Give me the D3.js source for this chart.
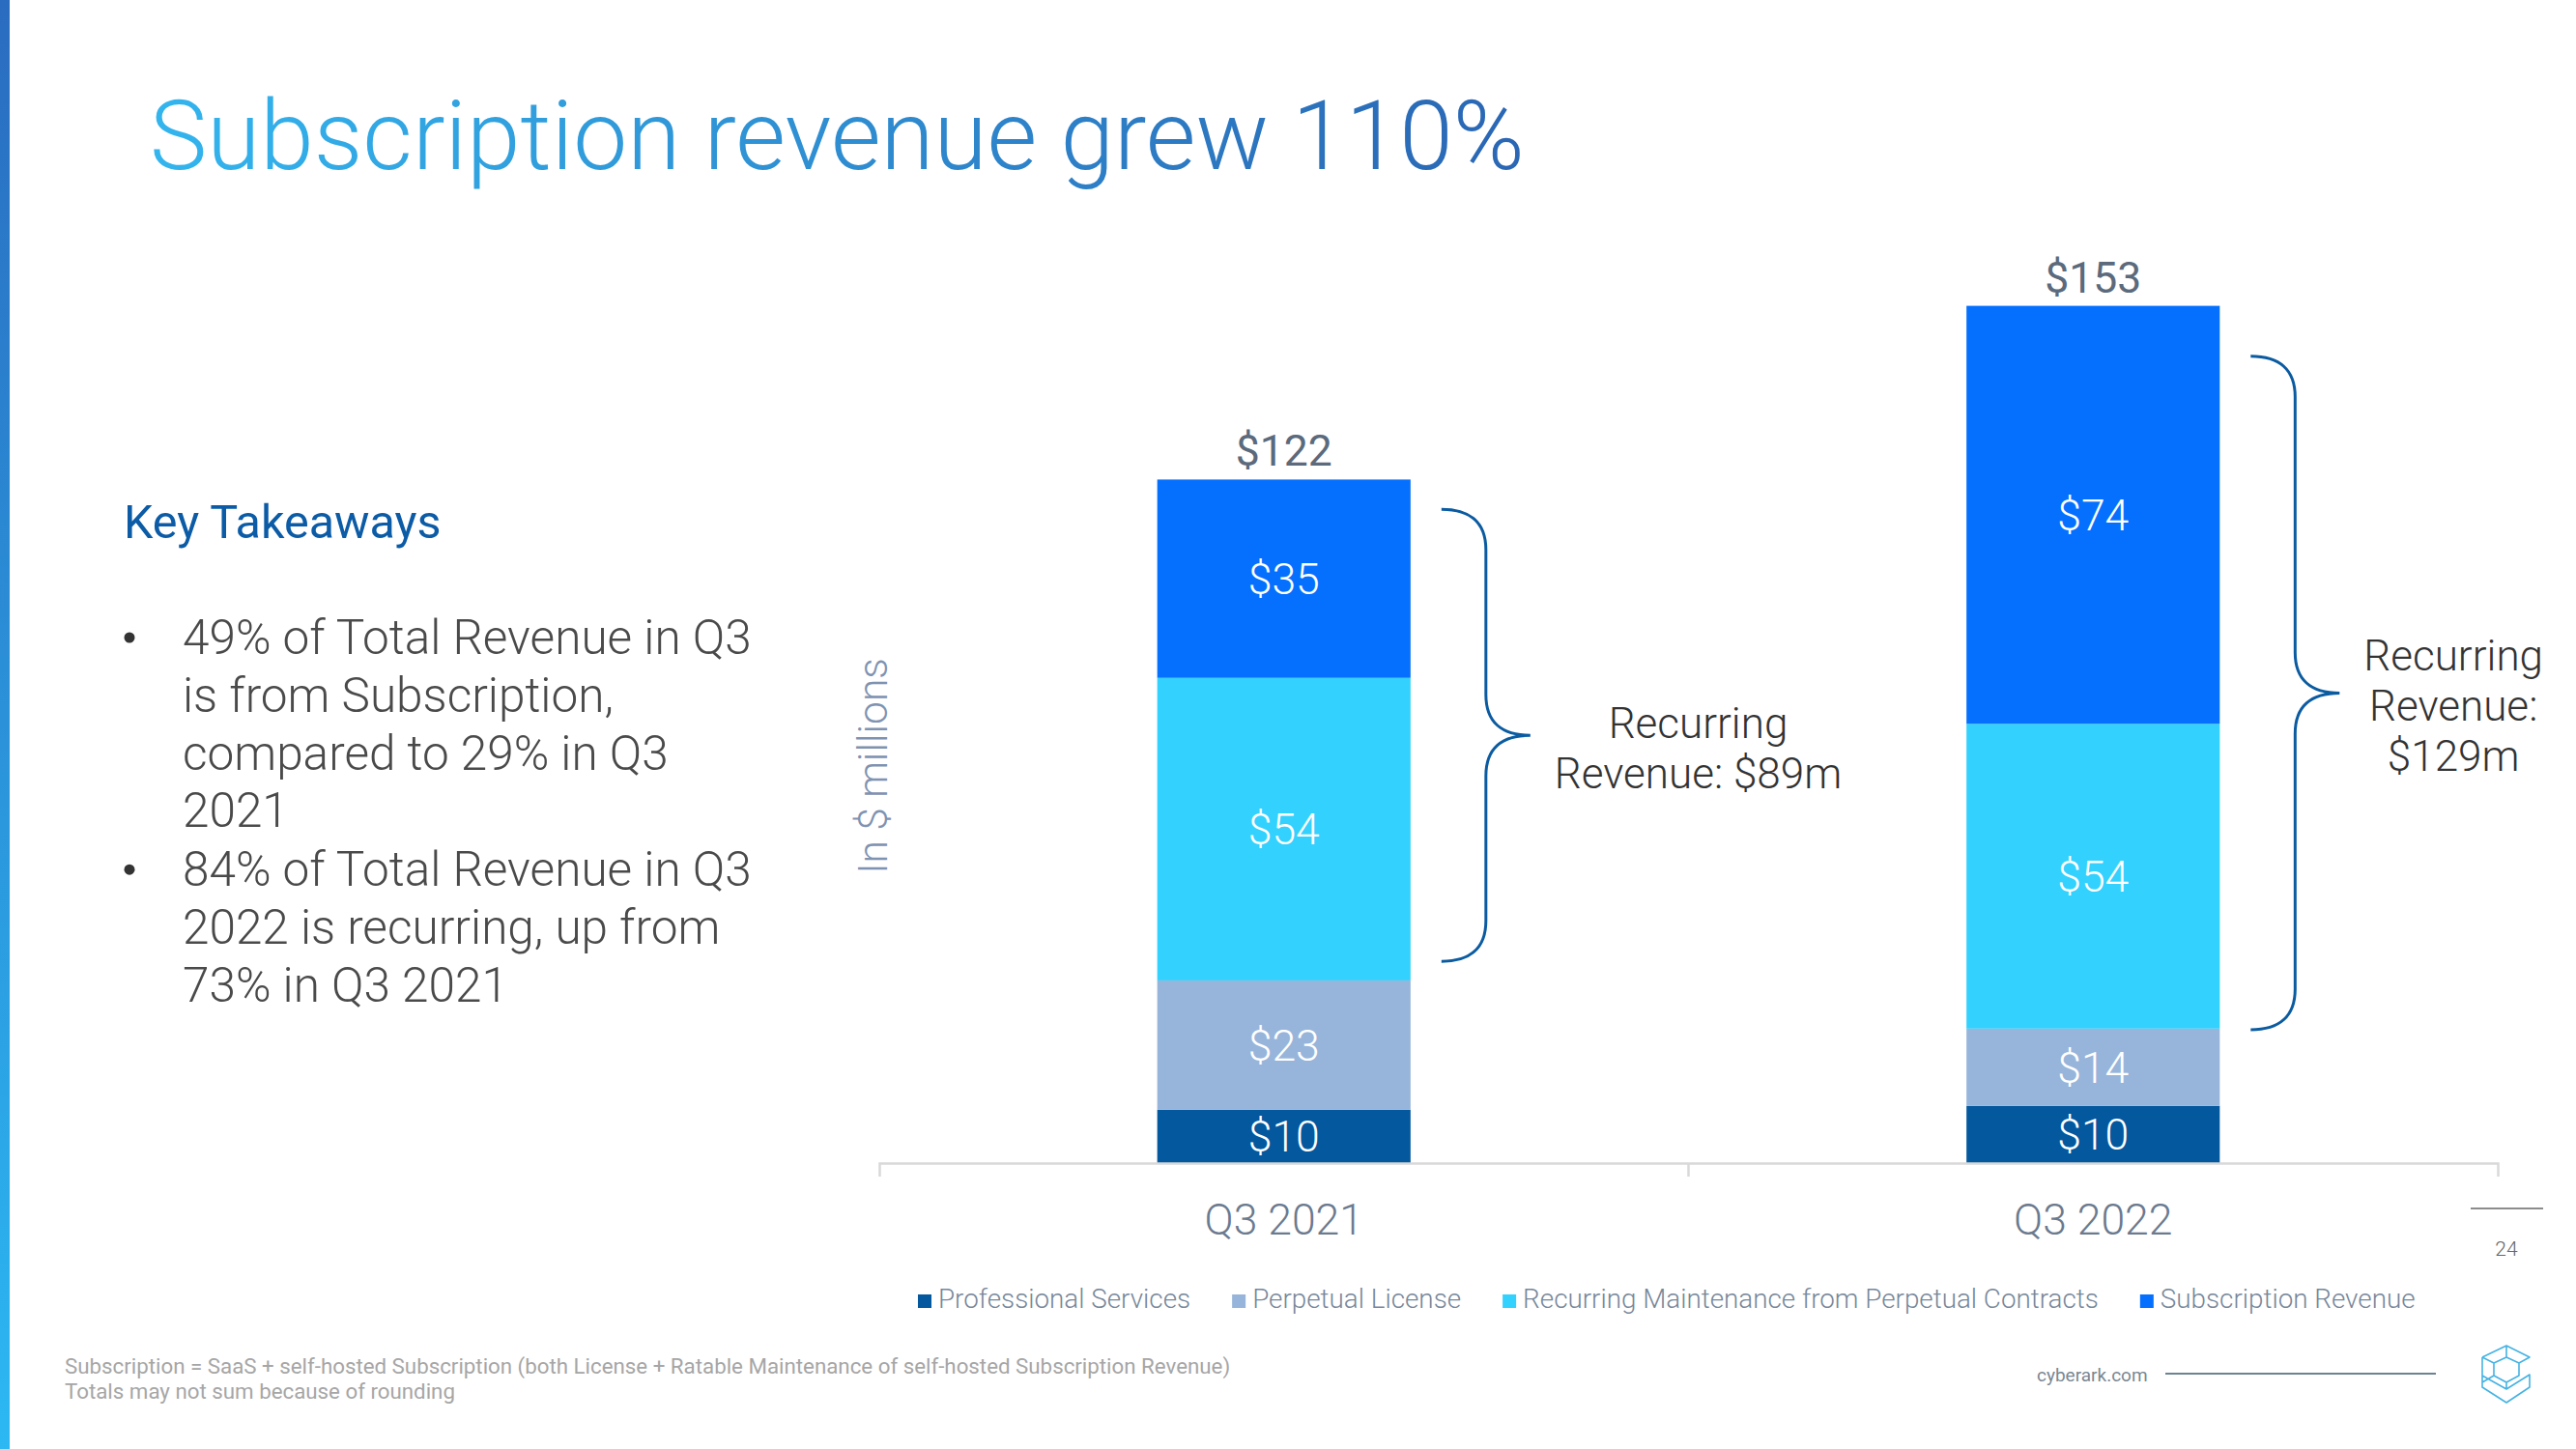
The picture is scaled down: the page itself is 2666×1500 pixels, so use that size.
<!DOCTYPE html>
<html><head><meta charset="utf-8">
<script src="https://cdn.jsdelivr.net/npm/d3@7"></script>
<style>
body{margin:0;background:#fff;}
svg{display:block;}
text{font-family:Roboto,"Noto Sans",sans-serif;}
</style>
</head><body>
<svg id="chart" width="2666" height="1500"></svg>
<script>
// ---------------- data ----------------
const categories = ["Q3 2021", "Q3 2022"];
const seriesNames = ["Professional Services", "Perpetual License", "Recurring Maintenance from Perpetual Contracts", "Subscription Revenue"];
const professionalServices = [9.5, 10.2];
const perpetualLicense = [23.1, 13.8];
const recurringMaintenance = [54.0, 54.4];
const subscriptionRevenue = [35.4, 74.6];
const professionalServicesLabels = ["$10", "$10"];
const perpetualLicenseLabels = ["$23", "$14"];
const recurringMaintenanceLabels = ["$54", "$54"];
const subscriptionRevenueLabels = ["$35", "$74"];
const totalLabels = ["$122", "$153"];
const recurringLabels = [["Recurring", "Revenue: $89m"], ["Recurring", "Revenue:", "$129m"]];
// extent of the "recurring" brace, in $ millions
const braceTop = [116.7, 144.0];
const braceBottom = [36.0, 23.8];
const seriesColors = ["#03589e", "#97b5da", "#33d1fd", "#0570fe"];
const titleText = "Subscription revenue grew 110%";
const takeawaysTitle = "Key Takeaways";
const bullets = [
  ["49% of Total Revenue in Q3", "is from Subscription,", "compared to 29% in Q3", "2021"],
  ["84% of Total Revenue in Q3", "2022 is recurring, up from", "73% in Q3 2021"]
];
const footnotes = ["Subscription = SaaS + self-hosted Subscription (both License + Ratable Maintenance of self-hosted Subscription Revenue)", "Totals may not sum because of rounding"];
const yAxisTitle = "In $ millions";
const pageNumber = "24";
const siteText = "cyberark.com";

// ---------------- setup ----------------
const svg = d3.select("#chart");
const defs = svg.append("defs");

const stripGrad = defs.append("linearGradient").attr("id", "stripGrad").attr("x1", 0).attr("y1", 0).attr("x2", 0).attr("y2", 1);
stripGrad.append("stop").attr("offset", "0%").attr("stop-color", "#2a6cc0");
stripGrad.append("stop").attr("offset", "100%").attr("stop-color", "#2cb8f3");
svg.append("rect").attr("x", 0).attr("y", 0).attr("width", 10).attr("height", 1500).attr("fill", "url(#stripGrad)");

const titleGrad = defs.append("linearGradient").attr("id", "titleGrad").attr("x1", 0).attr("y1", 0).attr("x2", 1).attr("y2", 0);
titleGrad.append("stop").attr("offset", "0%").attr("stop-color", "#33b5ee");
titleGrad.append("stop").attr("offset", "100%").attr("stop-color", "#2a66b4");

svg.append("text").attr("x", 155).attr("y", 175)
  .attr("font-size", 100).attr("font-weight", 300)
  .attr("fill", "url(#titleGrad)").text(titleText);

// key takeaways
svg.append("text").attr("x", 128).attr("y", 557)
  .attr("font-size", 48.5).attr("font-weight", 400).attr("fill", "#0b5ba6")
  .text(takeawaysTitle);

let by = 677;
bullets.forEach((lines) => {
  svg.append("circle").attr("cx", 134).attr("cy", by - 17).attr("r", 5.5).attr("fill", "#333");
  lines.forEach((ln) => {
    svg.append("text").attr("x", 189).attr("y", by)
      .attr("font-size", 49.5).attr("font-weight", 300).attr("fill", "#4a4a4a").text(ln);
    by += 59.8;
  });
  by += 1;
});

// ---------------- chart ----------------
const baseY = 1204;
const x = d3.scaleBand().domain(categories).range([910, 2585]).padding(0);
const y = d3.scaleLinear().domain([0, 160]).range([baseY, 276]);
const barW = x.bandwidth() * 0.313;

const rows = categories.map((c, i) => ({
  category: c,
  [seriesNames[0]]: professionalServices[i],
  [seriesNames[1]]: perpetualLicense[i],
  [seriesNames[2]]: recurringMaintenance[i],
  [seriesNames[3]]: subscriptionRevenue[i]
}));
const labelSets = [professionalServicesLabels, perpetualLicenseLabels, recurringMaintenanceLabels, subscriptionRevenueLabels];
const stacked = d3.stack().keys(seriesNames)(rows);

const barX = c => x(c) + (x.bandwidth() - barW) / 2;

const layers = svg.append("g").selectAll("g").data(stacked).join("g")
  .attr("fill", (d, i) => seriesColors[i]);
layers.selectAll("rect").data(d => d).join("rect")
  .attr("x", d => barX(d.data.category))
  .attr("y", d => y(d[1]))
  .attr("width", barW)
  .attr("height", d => y(d[0]) - y(d[1]));

stacked.forEach((layer, si) => {
  layer.forEach((d, ci) => {
    svg.append("text")
      .attr("x", x(d.data.category) + x.bandwidth() / 2)
      .attr("y", (y(d[0]) + y(d[1])) / 2)
      .attr("dy", "0.36em")
      .attr("text-anchor", "middle")
      .attr("font-size", 44.5).attr("font-weight", 300).attr("fill", "#ffffff")
      .text(labelSets[si][ci]);
  });
});

// totals
const topLayer = stacked[stacked.length - 1];
topLayer.forEach((d, ci) => {
  svg.append("text")
    .attr("x", x(d.data.category) + x.bandwidth() / 2)
    .attr("y", y(d[1]) - 14)
    .attr("text-anchor", "middle")
    .attr("font-size", 44.5).attr("font-weight", 400).attr("fill", "#5b6a7c")
    .text(totalLabels[ci]);
});

// axis
const axis = d3.axisBottom(x).tickSizeInner(0).tickSizeOuter(14).tickPadding(42);
const ag = svg.append("g").attr("transform", `translate(0,${baseY})`).call(axis);
ag.select(".domain").attr("stroke", "#d9d9d9").attr("stroke-width", 2.5);
ag.selectAll(".tick text").attr("font-size", 44.5).attr("font-weight", 300).attr("fill", "#6b7a8f")
  .attr("font-family", "Roboto");
categories.slice(1).forEach(c => {
  svg.append("line").attr("x1", x(c)).attr("x2", x(c)).attr("y1", baseY).attr("y2", baseY + 14)
    .attr("stroke", "#d9d9d9").attr("stroke-width", 2.5);
});

// y axis title
svg.append("text")
  .attr("transform", `translate(918,793) rotate(-90)`)
  .attr("text-anchor", "middle")
  .attr("font-size", 42.5).attr("font-weight", 300).attr("fill", "#7f93b1")
  .text(yAxisTitle);

// braces + recurring labels
categories.forEach((c, ci) => {
  const top = y(braceTop[ci]);
  const bot = y(braceBottom[ci]);
  const mid = (top + bot) / 2;
  const bx = barX(c) + barW + 32;
  const vx = bx + 46, px = bx + 92;
  const p = d3.path();
  p.moveTo(bx, top);
  p.bezierCurveTo(bx + 30, top, vx, top + 14, vx, top + 42);
  p.lineTo(vx, mid - 42);
  p.bezierCurveTo(vx, mid - 14, px - 30, mid, px, mid);
  p.bezierCurveTo(px - 30, mid, vx, mid + 14, vx, mid + 42);
  p.lineTo(vx, bot - 42);
  p.bezierCurveTo(vx, bot - 14, bx + 30, bot, bx, bot);
  svg.append("path").attr("d", p.toString()).attr("fill", "none")
    .attr("stroke", "#0b5ba1").attr("stroke-width", 3);

  const lines = recurringLabels[ci];
  const lh = 52;
  const g = svg.append("g");
  const texts = lines.map((ln, li) => g.append("text")
    .attr("y", mid + 29 - (lines.length - 1) * lh / 2 + li * lh)
    .attr("text-anchor", "middle")
    .attr("font-size", 44).attr("font-weight", 300).attr("fill", "#333")
    .text(ln));
  const maxW = d3.max(texts, t => t.node().getComputedTextLength());
  const cx = px + 25 + maxW / 2;
  texts.forEach(t => t.attr("x", cx));
});

// legend
let lx = 950;
const legY = 1354;
seriesNames.forEach((s, i) => {
  svg.append("rect").attr("x", lx).attr("y", legY - 14).attr("width", 14).attr("height", 14).attr("fill", seriesColors[i]);
  const t = svg.append("text").attr("x", lx + 21).attr("y", legY)
    .attr("font-size", 27.8).attr("font-weight", 300).attr("fill", "#77879a").text(s);
  lx += 21 + t.node().getComputedTextLength() + 43;
});

// page number
svg.append("line").attr("x1", 2557).attr("x2", 2632).attr("y1", 1251).attr("y2", 1251).attr("stroke", "#666").attr("stroke-width", 1.5);
svg.append("text").attr("x", 2594).attr("y", 1300).attr("text-anchor", "middle")
  .attr("font-size", 21).attr("font-weight", 300).attr("fill", "#666").text(pageNumber);

// footnotes
footnotes.forEach((f, i) => {
  svg.append("text").attr("x", 67).attr("y", 1422 + i * 26)
    .attr("font-size", 22.3).attr("font-weight", 400).attr("fill", "#a6a6a6").text(f);
});

// footer
svg.append("text").attr("x", 2108).attr("y", 1430).attr("font-family", "Liberation Sans, Arial, sans-serif")
  .attr("font-size", 19).attr("fill", "#7a8793").text(siteText);
svg.append("line").attr("x1", 2241).attr("x2", 2521).attr("y1", 1422).attr("y2", 1422).attr("stroke", "#6d8394").attr("stroke-width", 2);

// logo
const logo = svg.append("g").attr("transform", "translate(2569,1393)")
  .attr("fill", "none").attr("stroke", "#46b3e3").attr("stroke-width", 1.6).attr("stroke-linejoin", "round");
logo.append("path").attr("d",
  "M0,12 L25,0 L49,12 L38,18 L38,31 L25,38 L12,31 L12,18 L25,12 L38,18 " +
  "M0,12 L12,18 M25,0 L25,12 M25,38 L25,45 M12,31 L0,38 " +
  "M0,12 L0,43 L25,59 L49,43 L49,30 L25,45 L0,31");
</script>
</body></html>
